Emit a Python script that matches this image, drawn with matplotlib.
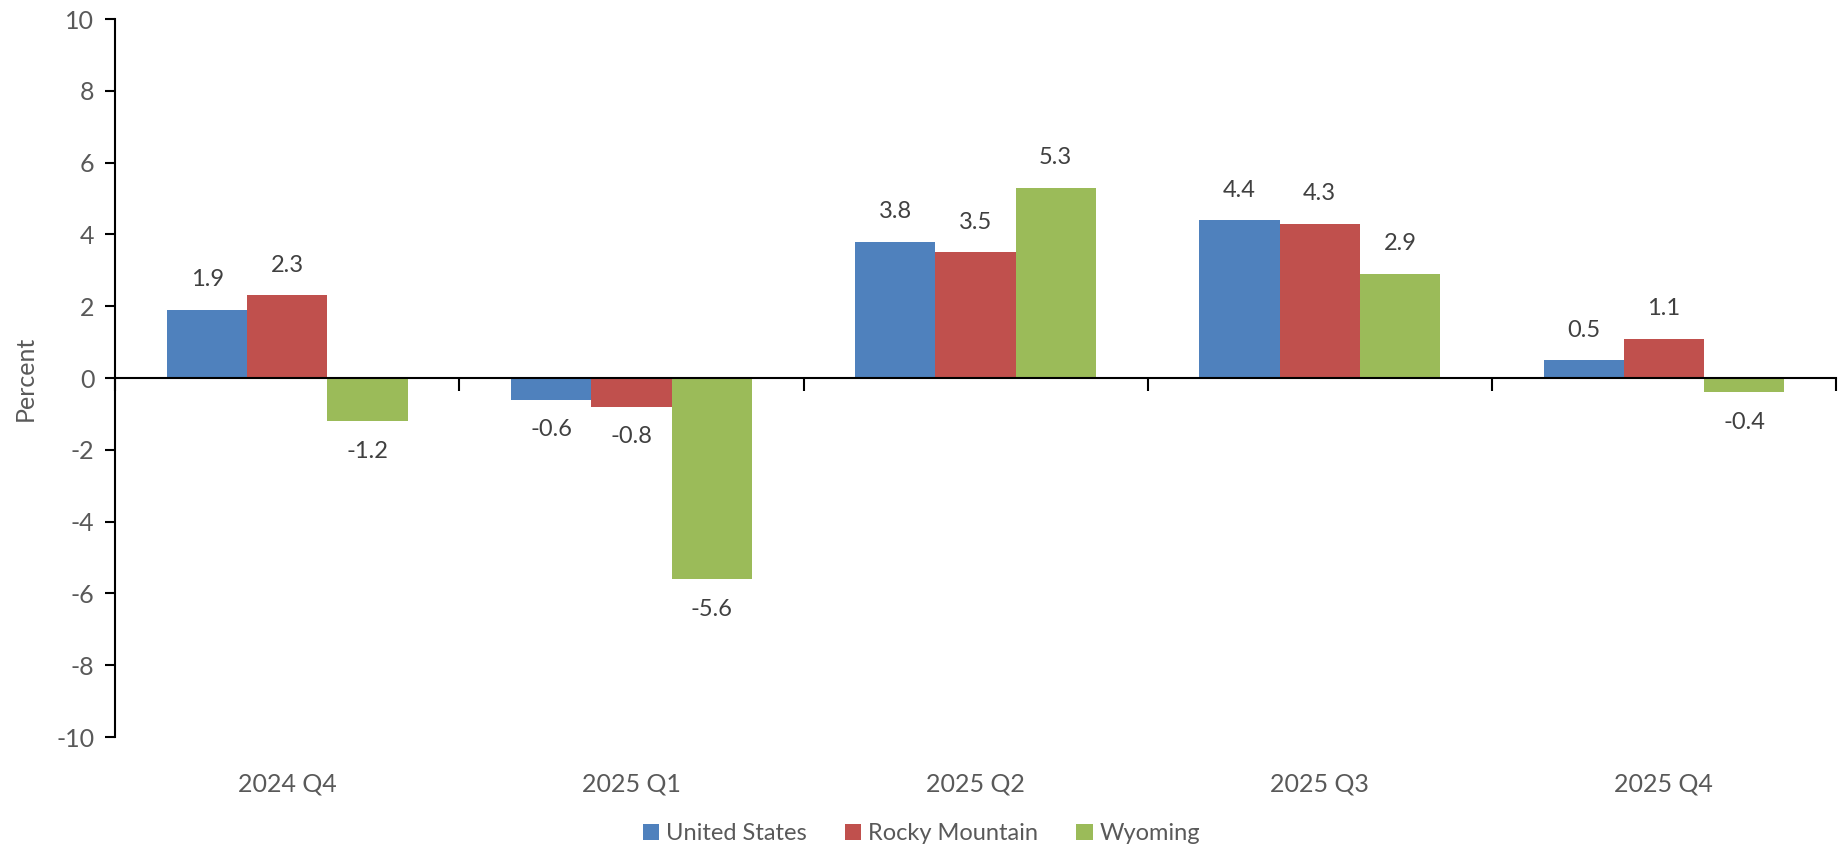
import matplotlib
matplotlib.use("Agg")
import matplotlib.pyplot as plt
import matplotlib.transforms as mtransforms
import numpy as np

quarters = ["2024 Q4", "2025 Q1", "2025 Q2", "2025 Q3", "2025 Q4"]
series_names = ["United States", "Rocky Mountain", "Wyoming"]
united_states = [1.9, -0.6, 3.8, 4.4, 0.5]
rocky_mountain = [2.3, -0.8, 3.5, 4.3, 1.1]
wyoming = [-1.2, -5.6, 5.3, 2.9, -0.4]
colors = ["#4F81BD", "#C0504D", "#9BBB59"]

plt.rcParams["font.family"] = ["Liberation Sans Narrow", "Lato", "DejaVu Sans"]
plt.rcParams["axes.unicode_minus"] = False
label_grey = "#595959"
value_grey = "#404040"

fig = plt.figure(figsize=(18.43, 8.5), dpi=100)
ax = fig.add_axes([0.0625, 0.1329, 0.9337, 0.8447])

x = np.arange(len(quarters))
width = 0.233
for i, (vals, name, col) in enumerate(zip([united_states, rocky_mountain, wyoming], series_names, colors)):
    pos = x + (i - 1) * width
    bars = ax.bar(pos, vals, width=width, color=col, label=name, zorder=2)
    for b, v in zip(bars, vals):
        off = 14 if v >= 0 else -14
        ax.annotate(f"{v:.1f}", (b.get_x() + b.get_width() / 2, v),
                    xytext=(0, off), textcoords="offset points",
                    ha="center", va="bottom" if v >= 0 else "top",
                    fontsize=17, color=value_grey)

ax.set_xlim(-0.5, len(quarters) - 0.5)
ax.set_ylim(-10, 10)
ax.set_yticks(np.arange(-10, 11, 2))
ax.tick_params(axis="y", direction="out", length=7, width=1.5, labelsize=18,
               labelcolor=label_grey, pad=8)
ax.set_ylabel("Percent", fontsize=18, color=label_grey, labelpad=14)

for side in ["top", "right"]:
    ax.spines[side].set_visible(False)
ax.spines["left"].set_linewidth(1.5)
ax.spines["bottom"].set_position(("data", 0))
ax.spines["bottom"].set_linewidth(1.5)
ax.spines["bottom"].set_zorder(3)
ax.set_xticks(np.arange(-0.5, len(quarters), 1.0))
ax.set_xticklabels([])
ax.tick_params(axis="x", direction="out", length=9, width=1.5)

trans = mtransforms.blended_transform_factory(ax.transData, ax.transAxes)
for xi, q in zip(x, quarters):
    ax.text(xi, -0.065, q, transform=trans, ha="center", va="center",
            fontsize=18, color=label_grey)

ax.legend(loc="center", bbox_to_anchor=(0.5, 0.019), bbox_transform=fig.transFigure,
          ncol=3, frameon=False, fontsize=17, labelcolor=label_grey,
          handlelength=0.7, handleheight=0.7, handletextpad=0.3, columnspacing=1.6)

fig.savefig("out.png", dpi=100)
